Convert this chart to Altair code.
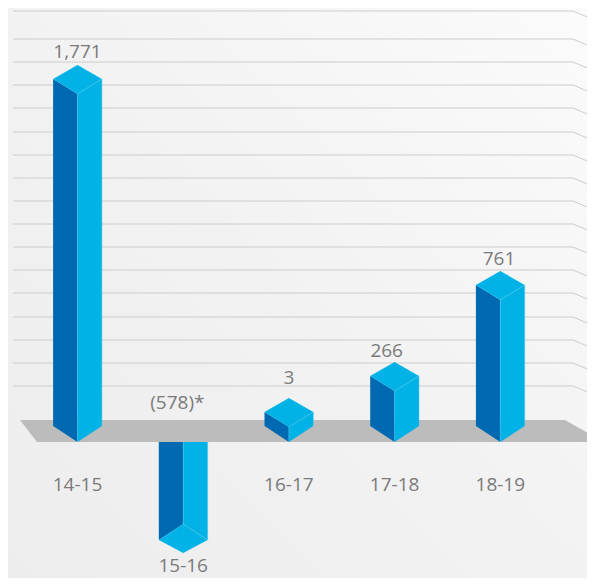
import altair as alt
import pandas as pd

# Content
categories = ["14-15", "15-16", "16-17", "17-18", "18-19"]
value_labels = ["1,771", "(578)*", "3", "266", "761"]
values = [1771, -578, 3, 266, 761]
# drawn height of each column's front edge above the floor front edge, as measured
front_heights = [348, -82, 15, 51, 142]
# guide levels measured above the floor front edge
grid_levels = [431, 403, 380, 357, 334, 310, 287, 264, 241, 218, 195, 172, 149, 125, 102, 79, 56]
# label anchors, measured
value_label_levels = [390, 39, 64, 91, 183]
value_label_shift = [0, -0.055, 0, -0.075, -0.012]
category_label_levels = [-43, -124, -43, -43, -43]

W, H = 579, 570
FLOOR_PX = 434          # floor front edge in plot pixels
X0, STEP = 69.5, 105.7  # first column centre, column spacing
half = 24.4 / STEP
SIDE, APEX, BASE = 15, 29, 16

xscale = alt.Scale(domain=[-X0 / STEP, (W - X0) / STEP], range=[0, W], nice=False, zero=False)
yscale = alt.Scale(domain=[FLOOR_PX - H, FLOOR_PX], range=[H, 0], nice=False, zero=False)


def page_x(px):
    return (px - 8 - X0) / STEP


dark, light, edges = [], [], []
for i, h in enumerate(front_heights):
    l, c, r = i - half, i, i + half
    if h >= 0:
        dark += [dict(id=i, x=l, y=h + SIDE, y2=BASE), dict(id=i, x=c, y=h, y2=0)]
        light += [dict(id=f"r{i}", x=c, y=h, y2=0), dict(id=f"r{i}", x=r, y=h + SIDE, y2=BASE)]
        light += [dict(id=f"t{i}", x=l, y=h + SIDE, y2=h + SIDE),
                  dict(id=f"t{i}", x=c, y=h + APEX, y2=h),
                  dict(id=f"t{i}", x=r, y=h + SIDE, y2=h + SIDE)]
        edges += [dict(id=f"a{i}", x=c, y=0, o=0), dict(id=f"a{i}", x=c, y=h, o=1),
                  dict(id=f"a{i}", x=r, y=h + SIDE, o=2), dict(id=f"a{i}", x=r, y=BASE, o=3)]
    else:
        dark += [dict(id=i, x=l, y=0, y2=h - BASE), dict(id=i, x=c, y=0, y2=h)]
        light += [dict(id=f"r{i}", x=c, y=0, y2=h), dict(id=f"r{i}", x=r, y=0, y2=h - BASE)]
        light += [dict(id=f"t{i}", x=l, y=h - BASE, y2=h - BASE),
                  dict(id=f"t{i}", x=c, y=h, y2=h - APEX),
                  dict(id=f"t{i}", x=r, y=h - BASE, y2=h - BASE)]
        edges += [dict(id=f"a{i}", x=c, y=0, o=0), dict(id=f"a{i}", x=c, y=h, o=1),
                  dict(id=f"a{i}", x=r, y=h - BASE, o=2), dict(id=f"a{i}", x=r, y=0, o=3)]

floor = pd.DataFrame([
    dict(x=page_x(20), y=22, y2=22),
    dict(x=page_x(37), y=22, y2=0),
    dict(x=page_x(565), y=22, y2=0),
    dict(x=page_x(595), y=5, y2=0),
])

grid = []
for k, g in enumerate(grid_levels):
    grid += [dict(id=k, x=page_x(13), y=g), dict(id=k, x=page_x(573), y=g), dict(id=k, x=page_x(595), y=g - 9.3)]

X = alt.X("x:Q", scale=xscale, axis=None)
Y = alt.Y("y:Q", scale=yscale, axis=None)
Y2 = alt.Y2("y2:Q")

bg = alt.Chart(pd.DataFrame({"a": [0]})).mark_rect(
    color=alt.LinearGradient(
        gradient="linear", x1=0, y1=1, x2=1, y2=0,
        stops=[alt.GradientStop(offset=0, color="#ededed"),
               alt.GradientStop(offset=0.5, color="#f2f2f2"),
               alt.GradientStop(offset=1, color="#fbfbfb")])
).encode(x=alt.value(0), x2=alt.value(W), y=alt.value(0), y2=alt.value(H))

grid_layer = alt.Chart(pd.DataFrame(grid)).mark_line(color="#cccccc", strokeWidth=1).encode(
    x=X, y=Y, detail="id:N", order="x:Q")
floor_layer = alt.Chart(floor).mark_area(color="#bcbcbc", opacity=1).encode(x=X, y=Y, y2=Y2)
dark_layer = alt.Chart(pd.DataFrame(dark)).mark_area(color="#0069b2", opacity=1).encode(
    x=X, y=Y, y2=Y2, detail="id:N")
light_layer = alt.Chart(pd.DataFrame(light)).mark_area(color="#00b2e6", opacity=1).encode(
    x=X, y=Y, y2=Y2, detail="id:N")
edge_layer = alt.Chart(pd.DataFrame(edges)).mark_line(color="#4cc6ee", strokeWidth=0.5).encode(
    x=X, y=Y, detail="id:N", order="o:Q")

text_df = pd.DataFrame({
    "x": [i + s for i, s in enumerate(value_label_shift)] + list(range(len(categories))),
    "y": value_label_levels + category_label_levels,
    "t": value_labels + categories,
})
text_layer = alt.Chart(text_df).mark_text(
    font="Open Sans", fontSize=19, color="#7a7a7a", align="center", baseline="middle"
).encode(x=X, y=Y, text="t:N")

chart = alt.layer(bg, grid_layer, floor_layer, dark_layer, light_layer, edge_layer, text_layer).properties(
    width=W, height=H, padding=0, autosize=alt.AutoSizeParams(type="none")
).configure_view(stroke=None)

chart.save("out.html", embed_options={"renderer": "svg", "actions": False})
